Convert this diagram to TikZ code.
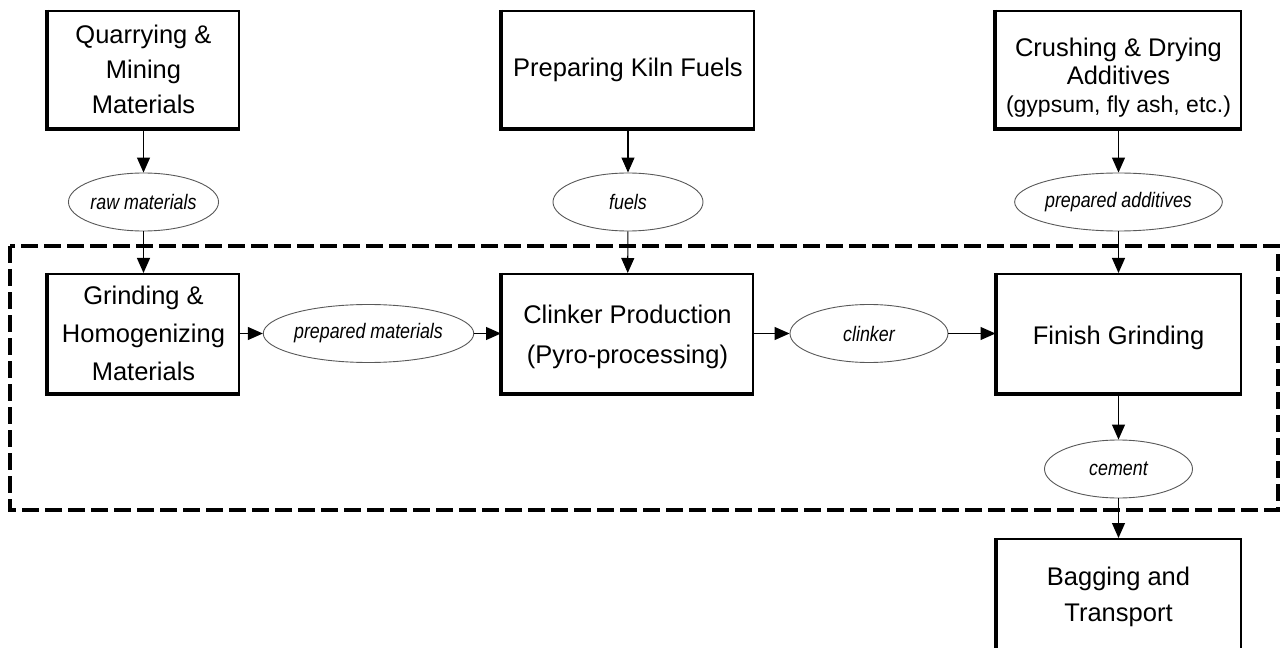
\documentclass[tikz,border=0pt]{standalone}
\usepackage{fontspec}
\setmainfont{Liberation Sans}
\newfontfamily\ellfont{Liberation Sans}[FakeStretch=0.85]
\usetikzlibrary{arrows.meta,shapes.geometric}

\begin{document}
\begin{tikzpicture}[x=1bp,y=-1bp,
  box/.style={draw, line width=2bp, fill=white, minimum height=117bp, inner sep=0pt, align=center},
  boxfont/.style={font=\fontsize{25.5bp}{#1}\selectfont},
  ell/.style={draw=black!65, line width=0.9bp, fill=white, ellipse, minimum height=58bp, inner sep=0pt,
              font=\ellfont\itshape\fontsize{21bp}{24bp}\selectfont},
  flow/.style={line width=1.1bp, -{Triangle[length=15bp,width=13bp]}},
  region/.style={line width=4bp, dash pattern=on 17bp off 6bp},
  heavy/.style={line width=3.6bp}
]
\fill[white] (0,0) rectangle (1285,648);
\useasboundingbox (0,0) rectangle (1285,648);

% process boundary
\draw[region] (10,246) rectangle (1278,510);

% top row
\node[box, boxfont=35bp, minimum width=191bp] (quarry) at (143.5,69.5) {Quarrying \&\\Mining\\Materials};
\node[box, boxfont=35bp, minimum width=252bp] (kiln) at (628,69.5) {Preparing Kiln Fuels};
\node[box, minimum width=245bp] (crush) at (1118.5,69.5) {};
\node[align=center, inner sep=0pt, boxfont=28bp] (crushtxt) at (1118.5,78) {Crushing \& Drying\\Additives\\{\fontsize{23bp}{28bp}\selectfont(gypsum, fly ash, etc.)}};

% intermediate ellipses
\node[ell, minimum width=148bp] (raw) at (143.5,202) {raw materials};
\node[ell, minimum width=150bp] (fuels) at (628,202) {fuels};
\node[ell, minimum width=182bp] (addit) at (1118.5,202) {prepared additives};

% middle row
\node[box, boxfont=38bp, minimum width=191bp, minimum height=119bp] (grind) at (143.5,333.5) {Grinding \&\\Homogenizing\\Materials};
\node[ell, minimum width=183bp] (prep) at (368.5,333.5) {prepared materials};
\node[box, minimum width=251bp, minimum height=119bp] (clinkbox) at (627.5,333.5) {};
\node[align=center, inner sep=0pt, boxfont=40bp] (clinktxt) at (627.5,337) {Clinker Production\\(Pyro-processing)};
\node[ell, minimum width=158bp] (clink) at (869,333.5) {clinker};
\node[box, minimum width=244bp, minimum height=119bp] (finish) at (1118.5,333.5) {};
\node[inner sep=0pt, boxfont=35bp] (finishtxt) at (1118.5,338) {Finish Grinding};

% bottom
\node[ell, minimum width=148bp] (cement) at (1118.5,469) {cement};
\node[box, boxfont=36bp, minimum width=244bp, minimum height=116bp] (bag) at (1118.5,597) {Bagging and\\Transport};

% heavier left and bottom edges of the boxes
\foreach \b in {quarry,kiln,crush,grind,clinkbox,finish,bag}
  \draw[heavy] (\b.north west) -- (\b.south west) -- (\b.south east);

% connectors
\draw[flow] (quarry) -- (raw);
\draw[flow] (raw) -- (grind);
\draw[flow] (kiln) -- (fuels);
\draw[flow] (fuels) -- (clinkbox);
\draw[flow] (crush) -- (addit);
\draw[flow] (addit) -- (finish);
\draw[flow] (grind) -- (prep);
\draw[flow] (prep) -- (clinkbox);
\draw[flow] (clinkbox) -- (clink);
\draw[flow] (clink) -- (finish);
\draw[flow] (finish) -- (cement);
\draw[flow] (cement) -- (bag);
\end{tikzpicture}
\end{document}
